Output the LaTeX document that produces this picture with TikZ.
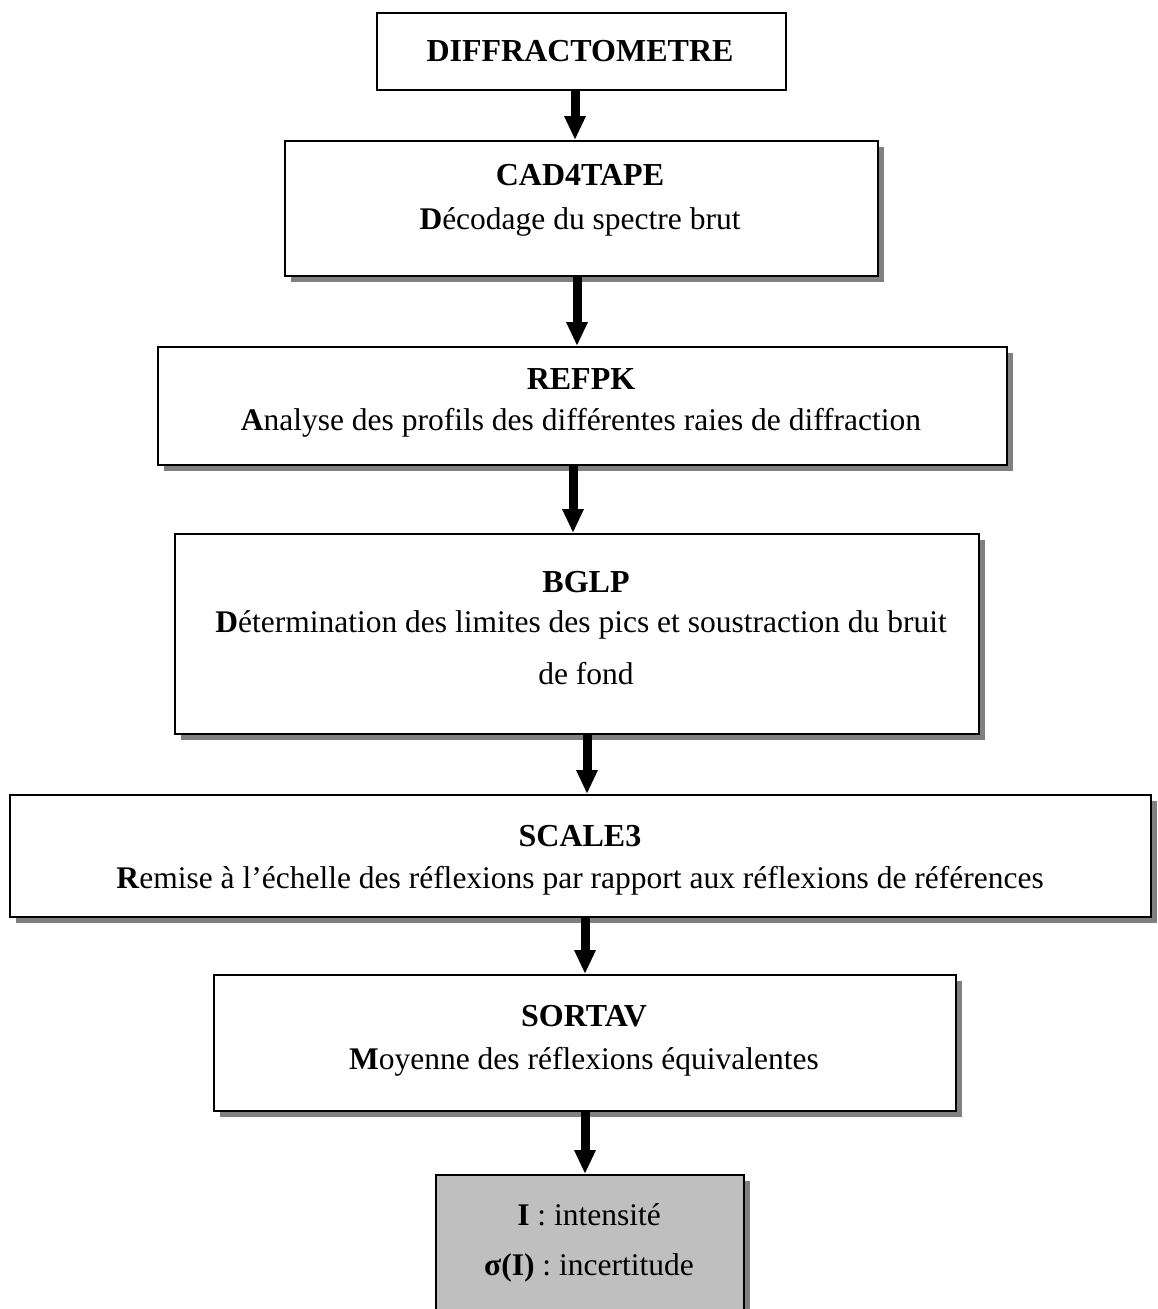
\documentclass[tikz,border=0pt]{standalone}
\usepackage{fontspec}
\setmainfont{Liberation Serif}
\usetikzlibrary{arrows.meta,shadows}
\begin{document}
\begin{tikzpicture}[x=1pt,y=-1pt,
  box/.style={draw=black,line width=2.2pt,fill=white,anchor=north west,inner sep=0pt},
  shbox/.style={box,drop shadow={shadow xshift=6pt,shadow yshift=-6pt,fill=black!50,opacity=1}},
  ttl/.style={anchor=base,inner sep=0pt,font=\fontsize{32}{38}\selectfont\bfseries},
  txt/.style={anchor=base,inner sep=0pt,font=\fontsize{31.5}{38}\selectfont},
  arr/.style={line width=9pt,-{Triangle[width=20pt,length=24pt]}}]
\useasboundingbox (0,0) rectangle (1158,1309);
\begin{scope}
\clip (0,0) rectangle (1158,1309);
% boxes
\node[box,minimum width=409pt,minimum height=77pt] (b1) at (376,12) {};
\node[shbox,minimum width=593pt,minimum height=135pt] (b2) at (284,140) {};
\node[shbox,minimum width=849pt,minimum height=118pt] (b3) at (157,346) {};
\node[shbox,minimum width=804pt,minimum height=200pt] (b4) at (174,533) {};
\node[shbox,minimum width=1141pt,minimum height=122pt] (b5) at (9,794) {};
\node[shbox,minimum width=742pt,minimum height=136pt] (b6) at (213,974) {};
\node[shbox,fill=black!25,minimum width=308pt,minimum height=170pt] (b7) at (435,1174) {};
% texts
\node[ttl] (t1) at (580,61) {DIFFRACTOMETRE};
\node[ttl] (t2) at (580,185) {CAD4TAPE};
\node[txt] (s2) at (580,229) {\textbf{D}écodage du spectre brut};
\node[ttl] (t3) at (581,389) {REFPK};
\node[txt] (s3) at (581,430) {\textbf{A}nalyse des profils des différentes raies de diffraction};
\node[ttl] (t4) at (586,592) {BGLP};
\node[txt] (s4) at (581,632) {\textbf{D}étermination des limites des pics et soustraction du bruit};
\node[txt] (s4b) at (586,684) {de fond};
\node[ttl] (t5) at (580,846) {SCALE3};
\node[txt] (s5) at (580,888) {\textbf{R}emise à l’échelle des réflexions par rapport aux réflexions de références};
\node[ttl] (t6) at (584,1026) {SORTAV};
\node[txt] (s6) at (584,1069) {\textbf{M}oyenne des réflexions équivalentes};
\node[txt] (s7) at (589,1225) {\textbf{I} : intensité};
\node[txt] (s7b) at (589,1275) {\textbf{σ(I)} : incertitude};
% arrows
\coordinate (x1) at (575,0);
\coordinate (x2) at (577,0);
\coordinate (x3) at (573,0);
\coordinate (x4) at (587,0);
\coordinate (x5) at (585,0);
\coordinate (x6) at (585,0);
\draw[arr] (b1.south -| x1) -- (b2.north -| x1);
\draw[arr] (b2.south -| x2) -- (b3.north -| x2);
\draw[arr] (b3.south -| x3) -- (b4.north -| x3);
\draw[arr] (b4.south -| x4) -- (b5.north -| x4);
\draw[arr] (b5.south -| x5) -- (b6.north -| x5);
\draw[arr] (b6.south -| x6) -- (b7.north -| x6);
\end{scope}
\end{tikzpicture}
\end{document}
